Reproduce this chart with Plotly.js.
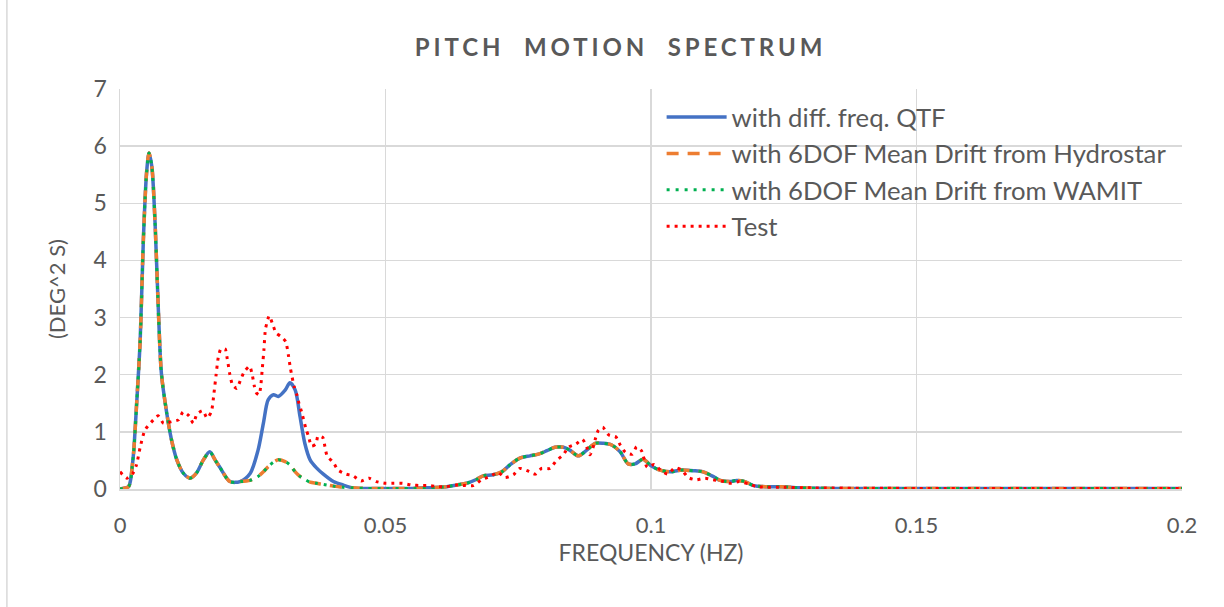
<!DOCTYPE html>
<html>
<head>
<meta charset="utf-8">
<script src="https://cdn.plot.ly/plotly-3.0.1.min.js"></script>
<style>
html,body{margin:0;padding:0;background:#fff;}
#chart{width:1224px;height:607px;}
.gtitle{letter-spacing:3.9px;}
</style>
</head>
<body>
<div id="chart"></div>
<script>
// Shared frequency grid of the simulated spectra (Hz)
const freqSim = [0, 0.0005, 0.0016, 0.002, 0.0023, 0.0026, 0.0031, 0.0038, 0.0044, 0.005, 0.00546, 0.006, 0.0066, 0.0072, 0.0078, 0.0088, 0.0097, 0.0107, 0.0119, 0.0132, 0.0144, 0.0157, 0.0169, 0.0179, 0.0188, 0.0207, 0.0226, 0.0245, 0.026, 0.027, 0.0279, 0.0289, 0.0298, 0.0311, 0.032, 0.033, 0.0339, 0.0348, 0.0358, 0.037, 0.0383, 0.0402, 0.042, 0.0439, 0.0464, 0.05, 0.055, 0.058, 0.0615, 0.0634, 0.0653, 0.0672, 0.0684, 0.0703, 0.0719, 0.0734, 0.0753, 0.0772, 0.0788, 0.0804, 0.0819, 0.0835, 0.0847, 0.0863, 0.0879, 0.0895, 0.091, 0.0926, 0.0942, 0.0957, 0.097, 0.0985, 0.1001, 0.1017, 0.1036, 0.1055, 0.108, 0.1098, 0.1117, 0.113, 0.1149, 0.1161, 0.1177, 0.1193, 0.1218, 0.1246, 0.128, 0.135, 0.15, 0.17, 0.2];

// with diff. freq. QTF
const qtfValues = [0.0, 0.01, 0.04, 0.16, 0.39, 0.68, 1.44, 2.6, 4.36, 5.53, 5.88, 5.64, 4.66, 3.19, 2.02, 1.33, 0.86, 0.51, 0.28, 0.19, 0.28, 0.51, 0.65, 0.51, 0.38, 0.13, 0.13, 0.27, 0.68, 1.15, 1.56, 1.65, 1.62, 1.73, 1.86, 1.73, 1.27, 0.8, 0.51, 0.37, 0.26, 0.13, 0.07, 0.02, 0.01, 0.01, 0.01, 0.02, 0.04, 0.07, 0.1, 0.17, 0.23, 0.25, 0.3, 0.42, 0.54, 0.58, 0.61, 0.67, 0.73, 0.73, 0.68, 0.58, 0.68, 0.8, 0.8, 0.77, 0.65, 0.44, 0.44, 0.52, 0.4, 0.33, 0.3, 0.33, 0.32, 0.3, 0.22, 0.15, 0.13, 0.15, 0.13, 0.06, 0.04, 0.04, 0.02, 0.01, 0.01, 0.01, 0.01];

// with 6DOF Mean Drift from Hydrostar
const hydrostarValues = [0.0, 0.01, 0.04, 0.16, 0.39, 0.68, 1.44, 2.6, 4.36, 5.53, 5.88, 5.64, 4.66, 3.19, 2.02, 1.33, 0.86, 0.51, 0.28, 0.19, 0.28, 0.51, 0.65, 0.51, 0.38, 0.13, 0.13, 0.15, 0.22, 0.3, 0.39, 0.47, 0.51, 0.48, 0.42, 0.3, 0.22, 0.17, 0.12, 0.1, 0.08, 0.05, 0.03, 0.02, 0.01, 0.01, 0.01, 0.02, 0.04, 0.07, 0.1, 0.17, 0.23, 0.25, 0.3, 0.42, 0.54, 0.58, 0.61, 0.67, 0.73, 0.73, 0.68, 0.58, 0.68, 0.8, 0.8, 0.77, 0.65, 0.44, 0.44, 0.52, 0.4, 0.33, 0.3, 0.33, 0.32, 0.3, 0.22, 0.15, 0.13, 0.15, 0.13, 0.06, 0.04, 0.04, 0.02, 0.01, 0.01, 0.01, 0.01];

// with 6DOF Mean Drift from WAMIT
const wamitValues = [0.0, 0.01, 0.04, 0.16, 0.39, 0.68, 1.44, 2.6, 4.36, 5.53, 5.88, 5.64, 4.66, 3.19, 2.02, 1.33, 0.86, 0.51, 0.28, 0.19, 0.28, 0.51, 0.65, 0.51, 0.38, 0.13, 0.13, 0.15, 0.22, 0.3, 0.39, 0.47, 0.51, 0.48, 0.42, 0.3, 0.22, 0.17, 0.12, 0.1, 0.08, 0.05, 0.03, 0.02, 0.01, 0.01, 0.01, 0.02, 0.04, 0.07, 0.1, 0.17, 0.23, 0.25, 0.3, 0.42, 0.54, 0.58, 0.61, 0.67, 0.73, 0.73, 0.68, 0.58, 0.68, 0.8, 0.8, 0.77, 0.65, 0.44, 0.44, 0.52, 0.4, 0.33, 0.3, 0.33, 0.32, 0.3, 0.22, 0.15, 0.13, 0.15, 0.13, 0.06, 0.04, 0.04, 0.02, 0.01, 0.01, 0.01, 0.01];

// Test
const freqTest = [0, 0.0013, 0.0024, 0.0031, 0.0038, 0.0047, 0.0063, 0.0072, 0.0082, 0.0097, 0.011, 0.0119, 0.013, 0.0138, 0.0145, 0.0156, 0.0164, 0.0172, 0.0177, 0.0181, 0.0185, 0.019, 0.0198, 0.0202, 0.0207, 0.0212, 0.022, 0.0227, 0.0234, 0.0244, 0.0249, 0.0253, 0.0257, 0.0262, 0.0265, 0.0268, 0.0271, 0.0274, 0.0281, 0.0288, 0.0294, 0.0303, 0.0312, 0.0317, 0.0321, 0.0328, 0.0333, 0.0337, 0.0342, 0.035, 0.0355, 0.0361, 0.0369, 0.0373, 0.0382, 0.0386, 0.039, 0.0402, 0.0411, 0.0426, 0.0439, 0.0454, 0.0469, 0.0483, 0.0499, 0.0515, 0.0532, 0.0549, 0.0568, 0.0584, 0.06, 0.0615, 0.0634, 0.065, 0.0665, 0.0681, 0.0697, 0.0712, 0.0725, 0.0741, 0.0753, 0.0767, 0.0782, 0.0794, 0.081, 0.0822, 0.0835, 0.0844, 0.0859, 0.0871, 0.0879, 0.0885, 0.0891, 0.0895, 0.0901, 0.0909, 0.092, 0.0934, 0.0942, 0.0952, 0.0965, 0.0973, 0.0982, 0.0993, 0.1006, 0.1018, 0.1031, 0.1045, 0.1058, 0.107, 0.1085, 0.1102, 0.1117, 0.1133, 0.1149, 0.1166, 0.1183, 0.12, 0.125, 0.13, 0.15, 0.17, 0.2];
const testValues = [0.3, 0.19, 0.27, 0.42, 0.73, 1.03, 1.21, 1.28, 1.15, 1.18, 1.21, 1.35, 1.28, 1.15, 1.31, 1.37, 1.24, 1.35, 1.68, 2.0, 2.3, 2.45, 2.45, 2.28, 2.0, 1.82, 1.76, 1.91, 2.05, 2.15, 2.0, 1.8, 1.68, 1.65, 1.8, 2.11, 2.43, 2.8, 3.03, 2.87, 2.73, 2.67, 2.58, 2.35, 2.11, 1.79, 1.65, 1.5, 1.35, 1.06, 0.92, 0.75, 0.79, 0.93, 0.9, 0.74, 0.58, 0.46, 0.33, 0.26, 0.23, 0.14, 0.19, 0.13, 0.1, 0.1, 0.1, 0.07, 0.06, 0.06, 0.04, 0.04, 0.07, 0.06, 0.06, 0.16, 0.22, 0.29, 0.2, 0.25, 0.36, 0.32, 0.26, 0.36, 0.36, 0.5, 0.6, 0.73, 0.79, 0.87, 0.73, 0.6, 0.73, 0.87, 1.03, 1.08, 0.95, 0.91, 0.77, 0.64, 0.61, 0.74, 0.67, 0.38, 0.43, 0.33, 0.26, 0.37, 0.33, 0.2, 0.16, 0.19, 0.16, 0.14, 0.1, 0.13, 0.09, 0.04, 0.03, 0.02, 0.01, 0.01, 0.01];

const seriesNames = ['with diff. freq. QTF', 'with 6DOF Mean Drift from Hydrostar', 'with 6DOF Mean Drift from WAMIT', 'Test'];
const xTicks = [0, 0.05, 0.1, 0.15, 0.2];
const xTickLabels = ['0', '0.05', '0.1', '0.15', '0.2'];
const yTicks = [0, 1, 2, 3, 4, 5, 6, 7];

const FONT = 'Lato, "Open Sans", sans-serif';
const GREY = '#595959';

const traces = [
  {x: freqSim, y: qtfValues, name: seriesNames[0], legendgroup: 'a', mode: 'lines',
   line: {color: '#4472C4', width: 3.5, shape: 'spline', smoothing: 0.8}},
  {x: freqSim, y: hydrostarValues, name: seriesNames[1], legendgroup: 'b', mode: 'lines',
   line: {color: '#ED7D31', width: 3.5, dash: '12px,9px', shape: 'spline', smoothing: 0.8}},
  {x: freqSim, y: wamitValues, name: seriesNames[2], legendgroup: 'c', mode: 'lines',
   line: {color: '#00B050', width: 3, dash: '3px,6px', shape: 'spline', smoothing: 0.8}},
  {x: freqTest, y: testValues, name: seriesNames[3], legendgroup: 'd', mode: 'lines',
   line: {color: '#FF0000', width: 3, dash: '3px,5px', shape: 'spline', smoothing: 0.6}}
];

const layout = {
  width: 1224, height: 607,
  paper_bgcolor: '#ffffff', plot_bgcolor: '#ffffff',
  margin: {l: 120, r: 42, t: 89, b: 118},
  font: {family: FONT, color: GREY, size: 22},
  title: {text: '<b>PITCH  MOTION  SPECTRUM</b>', x: 0.507, xanchor: 'center', y: 0.922, yanchor: 'middle',
          font: {family: FONT, size: 24, color: GREY}},
  xaxis: {
    range: [0, 0.2], tickvals: xTicks, ticktext: xTickLabels,
    showgrid: true, gridcolor: '#D9D9D9', gridwidth: 1.5,
    zeroline: false, showline: true, linecolor: '#D9D9D9', linewidth: 1.5,
    ticks: '', ticklabelstandoff: 16,
    tickfont: {family: FONT, size: 22, color: GREY},
    title: {text: 'FREQUENCY (HZ)', font: {family: FONT, size: 23, color: GREY}, standoff: 8}
  },
  yaxis: {
    range: [0, 7], tickvals: yTicks,
    showgrid: true, gridcolor: '#D9D9D9', gridwidth: 1.5,
    zeroline: false, showline: true, linecolor: '#D9D9D9', linewidth: 1.5,
    ticks: '', ticklabelstandoff: 7,
    tickfont: {family: FONT, size: 23, color: GREY},
    title: {text: '(DEG^2 S)', font: {family: FONT, size: 22, color: GREY}, standoff: 22}
  },
  legend: {
    x: 0.510, y: 0.988, xanchor: 'left', yanchor: 'top',
    bgcolor: 'rgba(255,255,255,0)', borderwidth: 0,
    font: {family: FONT, size: 25.7, color: GREY},
    itemwidth: 60,
    tracegroupgap: 5, traceorder: 'normal'
  },
  shapes: [
    {type: 'line', xref: 'paper', yref: 'paper', x0: -0.1065, x1: -0.1065, y0: -0.3, y1: 1.25,
     line: {color: '#D9D9D9', width: 1.5}}
  ],
  showlegend: true
};

Plotly.newPlot('chart', traces, layout, {displayModeBar: false, staticPlot: true});
</script>
</body>
</html>
